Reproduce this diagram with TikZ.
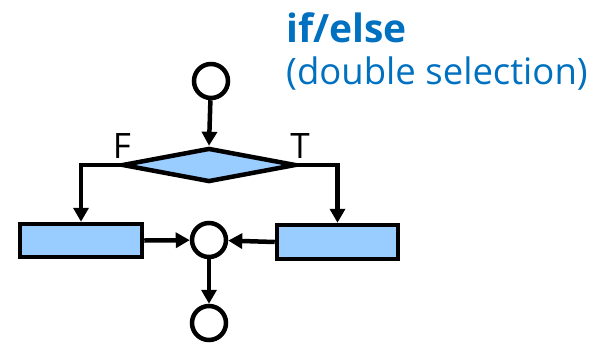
\documentclass[tikz,border=0pt]{standalone}
\usepackage{fontspec}
\setmainfont{Open Sans}
\usetikzlibrary{shapes.geometric,arrows.meta}
\definecolor{boxfill}{RGB}{153,204,255}
\definecolor{titleblue}{RGB}{0,112,192}
\tikzset{
  term/.style={circle,draw=black,line width=4.5pt,fill=white,minimum size=34pt,inner sep=0pt},
  actbox/.style={rectangle,draw=black,line width=4.5pt,fill=boxfill,inner sep=0pt},
  decis/.style={diamond,draw=black,line width=4.5pt,fill=boxfill,inner sep=0pt,minimum width=174pt,minimum height=34pt},
  flow/.style={line width=4.5pt,-{Triangle[length=14pt,width=15pt]}},
  lbl/.style={font=\fontsize{35}{38}\selectfont,inner sep=0pt},
}
\begin{document}
\begin{tikzpicture}[x=1pt,y=-1pt]
\useasboundingbox (0,0) rectangle (609,343);
\node[term] (start) at (211,81) {};
\node[decis] (dia) at (209,165) {};
\node[actbox,minimum width=122pt,minimum height=33pt] (left) at (81,240.5) {};
\node[actbox,minimum width=121pt,minimum height=34pt] (right) at (337.5,242) {};
\node[term] (merge) at (209,240) {};
\node[term] (stop) at (209,323) {};
\draw[flow] (start) -- (dia.north);
\draw[flow] (dia.west) -| (left.north);
\draw[flow] (dia.east) -| (right.north);
\draw[flow] (left.east) -- (merge);
\draw[flow] (right.west) -- (merge);
\draw[flow] (merge) -- (stop);
\node[lbl,anchor=base] (flab) at (122,158) {F};
\node[lbl,anchor=base] (tlab) at (300,158) {T};
\node[anchor=base west,inner sep=0pt,text=titleblue,font=\fontsize{39}{42}\bfseries] (title) at (286,42) {if/else};
\node[anchor=base west,inner sep=0pt,text=titleblue,font=\fontsize{36.5}{40}\selectfont] (sub) at (286,84) {(double selection)};
\end{tikzpicture}
\end{document}
